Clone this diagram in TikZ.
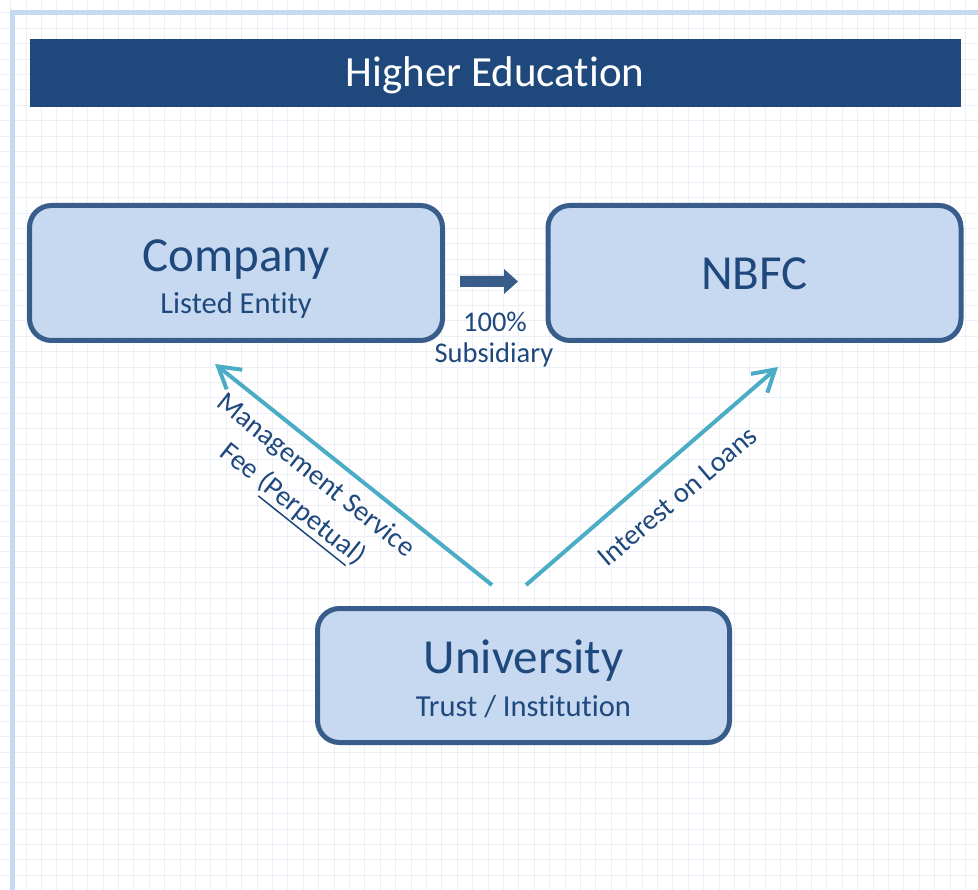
\documentclass[tikz,border=0pt]{standalone}
\usepackage{fontspec}
\setmainfont{Carlito}[RawFeature={-liga}]
\usetikzlibrary{arrows.meta}
\definecolor{frameblue}{RGB}{198,217,240}
\definecolor{titleblue}{RGB}{31,73,125}
\definecolor{boxfill}{RGB}{198,217,240}
\definecolor{boxborder}{RGB}{56,93,138}
\definecolor{textblue}{RGB}{31,73,125}
\definecolor{flowteal}{RGB}{75,172,198}
\definecolor{gridc}{RGB}{236,239,246}
\newcommand{\thickul}[1]{\begingroup\setbox0=\hbox{#1}\leavevmode\rlap{\raisebox{-8pt}{\rule{\wd0}{1.5pt}}}\box0\endgroup}
\tikzset{
  gridline/.style={gridc, line width=0.9pt},
  entitybox/.style={draw=boxborder, fill=boxfill, line width=5pt, rounded corners=22pt,
    inner sep=0pt, outer sep=0pt, minimum width=413pt, minimum height=135pt},
  lbl/.style={text=textblue, inner sep=0pt},
  bigtxt/.style={lbl, font=\fontsize{49}{59}\selectfont, anchor=base},
  subtxt/.style={lbl, font=\fontsize{30.5}{37}\selectfont, anchor=base},
  flow/.style={flowteal, line width=4pt, -{Straight Barb[length=21pt,width=25pt]}},
}
\begin{document}
\begin{tikzpicture}[x=1pt,y=-1pt]
\useasboundingbox (0,0) rectangle (978,890);
\fill[white] (0,0) rectangle (978,890);
% faint background grid
\foreach \i in {0,...,63} \draw[gridline] ({10.6+\i*15.4},0) -- ({10.6+\i*15.4},890);
\foreach \j in {0,...,58} \draw[gridline] (0,{12.8+\j*15.4}) -- (978,{12.8+\j*15.4});
% frame
\draw[frameblue, line width=5pt] (12,890) -- (12,13) -- (978,13);
% title bar
\node[fill=titleblue, inner sep=0pt, outer sep=0pt, minimum width=931pt, minimum height=68pt] (title) at (495.5,73) {};
\node[anchor=base, text=white, inner sep=0pt, font=\fontsize{43}{52}\selectfont] (titletext) at (495,87) {Higher Education};
% boxes
\node[entitybox] (company) at (236,273) {};
\node[entitybox] (nbfc) at (754.5,273) {};
\node[entitybox, minimum width=412pt, minimum height=134pt] (univ) at (523.5,675.5) {};
% box texts
\node[bigtxt] (companyt) at ([yshift=1pt]company.center) {Company};
\node[subtxt] (companys) at ([yshift=-41pt]company.center) {Listed Entity};
\node[bigtxt] (nbfct) at ([yshift=-17pt]nbfc.center) {NBFC};
\node[bigtxt] (univt) at ([yshift=2.5pt]univ.center) {University};
\node[subtxt] (univs) at ([yshift=-40.5pt]univ.center) {Trust / Institution};
% ownership block arrow
\fill[boxborder] (460,276) -- (504,276) -- (504,269) -- (518,281.5) -- (504,294) -- (504,287) -- (460,287) -- cycle;
\node[lbl, anchor=base, font=\fontsize{28.5}{35}\selectfont] (pct) at (495,332) {100\%};
\node[lbl, anchor=base, font=\fontsize{28.5}{35}\selectfont] (subs) at (494,363) {Subsidiary};
% flow connectors
\coordinate (ls) at ([shift={(-31.5,-23.5)}]univ.north);
\coordinate (le) at ([shift={(-21,23.5)}]company.south);
\coordinate (rs) at ([shift={(2.5,-23.5)}]univ.north);
\coordinate (re) at ([shift={(23.5,26.5)}]nbfc.south);
\draw[flow] (ls) -- (le);
\draw[flow] (rs) -- (re);
% flow labels
\node[lbl, align=center, font=\fontsize{28.5}{36.5}\selectfont, rotate=-38.6] (mlabel) at (303,491.5) {Management Service\\Fee (\thickul{Perpetual})};
\node[lbl, font=\fontsize{28.5}{35}\selectfont, rotate=40.4] (ilabel) at (677.5,496.5) {Interest on Loans};
\end{tikzpicture}
\end{document}
